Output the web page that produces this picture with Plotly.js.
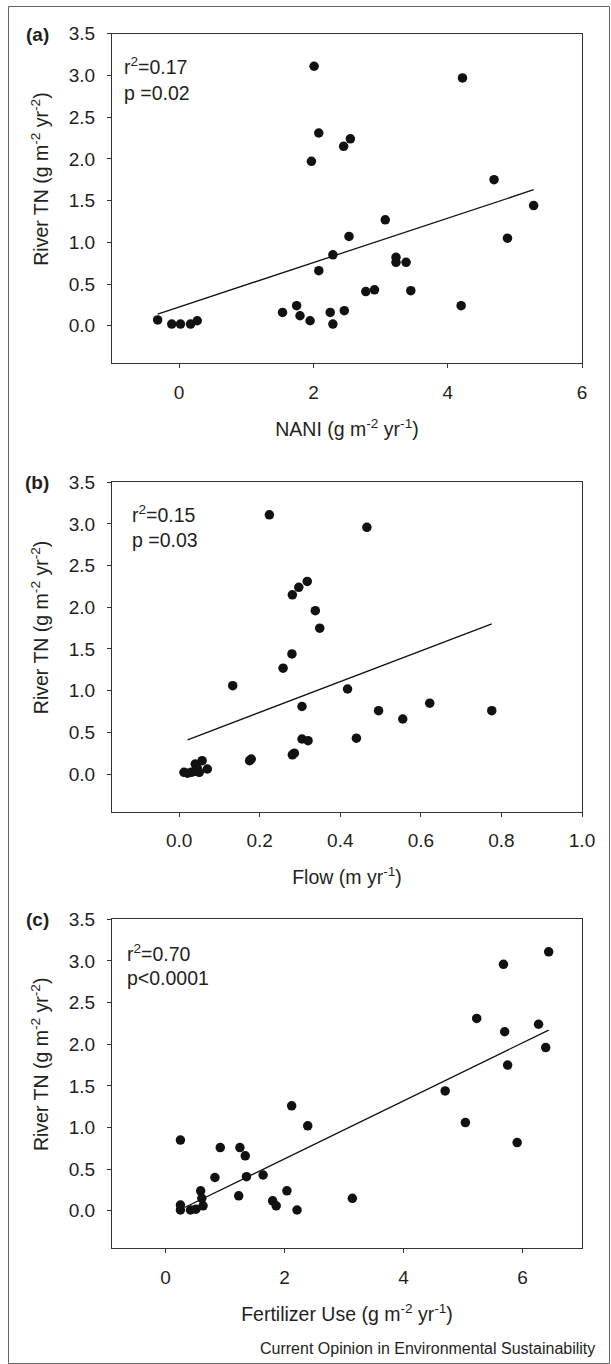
<!DOCTYPE html>
<html><head><meta charset="utf-8">
<script src="https://cdn.plot.ly/plotly-3.0.1.min.js"></script>
<style>html,body{margin:0;padding:0;background:#fff;} #chart{width:611px;height:1364px;}</style>
</head><body><div id="chart"></div>
<script>
// Panel (a): NANI vs River TN
const naniX = [2.01,4.22,2.08,2.55,2.45,1.97,4.69,5.28,3.07,2.53,4.89,2.29,2.08,3.23,3.23,3.38,2.78,2.91,3.45,4.20,1.54,1.75,1.80,1.95,2.25,2.29,2.46,-0.32,-0.11,0.02,0.17,0.27];
const naniTN = [3.11,2.97,2.31,2.24,2.15,1.97,1.75,1.44,1.27,1.07,1.05,0.85,0.66,0.82,0.76,0.76,0.41,0.43,0.42,0.24,0.16,0.24,0.12,0.06,0.16,0.02,0.18,0.07,0.02,0.02,0.02,0.06];
const naniFitX = [-0.32, 5.28];
const naniFitY = [0.14, 1.63];

// Panel (b): Flow vs River TN
const flowX = [0.224,0.466,0.318,0.297,0.281,0.338,0.349,0.280,0.258,0.133,0.418,0.305,0.495,0.776,0.555,0.622,0.305,0.320,0.440,0.281,0.286,0.175,0.179,0.021,0.040,0.057,0.050,0.070,0.045,0.030,0.038,0.012];
const flowTN = [3.11,2.96,2.31,2.24,2.15,1.96,1.75,1.44,1.27,1.06,1.02,0.81,0.76,0.76,0.66,0.85,0.42,0.40,0.43,0.23,0.25,0.16,0.18,0.01,0.12,0.16,0.02,0.06,0.07,0.02,0.03,0.02];
const flowFitX = [0.021, 0.776];
const flowFitY = [0.41, 1.80];

// Panel (c): Fertilizer use vs River TN
const fertX = [6.44,5.68,5.23,6.27,5.70,6.39,5.75,4.70,2.12,5.04,2.39,0.25,5.91,0.92,1.25,1.34,0.83,1.36,1.64,0.59,2.04,1.23,3.14,1.80,1.86,2.21,0.25,0.25,0.42,0.51,0.63,0.61];
const fertTN = [3.11,2.96,2.31,2.24,2.15,1.96,1.75,1.44,1.26,1.06,1.02,0.85,0.82,0.76,0.76,0.66,0.40,0.41,0.43,0.24,0.24,0.18,0.15,0.12,0.06,0.01,0.07,0.01,0.01,0.02,0.06,0.15];
const fertFitX = [0.32, 6.44];
const fertFitY = [0.04, 2.17];

const panelLabels = ['(a)', '(b)', '(c)'];
const xTitles = ['NANI (g m<sup>-2</sup> yr<sup>-1</sup>)', 'Flow (m yr<sup>-1</sup>)', 'Fertilizer Use (g m<sup>-2</sup> yr<sup>-1</sup>)'];
const yTitle = 'River TN (g m<sup>-2</sup> yr<sup>-2</sup>)';
const r2Text = ['r<sup>2</sup>=0.17', 'r<sup>2</sup>=0.15', 'r<sup>2</sup>=0.70'];
const pText = ['p =0.02', 'p =0.03', 'p<0.0001'];
const footer = 'Current Opinion in Environmental Sustainability';

const W = 611, H = 1364;
const FONT = 'Liberation Sans, Arial, Helvetica, sans-serif';
const TXT = '#231f20';
const px = v => v / W;
const py = v => 1 - v / H;

const mk = {color: '#111', size: 9.5};
const ln = {color: '#111', width: 1.3};
const data = [
  {x: naniX, y: naniTN, mode: 'markers', type: 'scatter', marker: mk, xaxis: 'x', yaxis: 'y'},
  {x: naniFitX, y: naniFitY, mode: 'lines', type: 'scatter', line: ln, xaxis: 'x', yaxis: 'y'},
  {x: flowX, y: flowTN, mode: 'markers', type: 'scatter', marker: mk, xaxis: 'x2', yaxis: 'y2'},
  {x: flowFitX, y: flowFitY, mode: 'lines', type: 'scatter', line: ln, xaxis: 'x2', yaxis: 'y2'},
  {x: fertX, y: fertTN, mode: 'markers', type: 'scatter', marker: mk, xaxis: 'x3', yaxis: 'y3'},
  {x: fertFitX, y: fertFitY, mode: 'lines', type: 'scatter', line: ln, xaxis: 'x3', yaxis: 'y3'}
];

// pixel geometry of the three plot boxes (top, bottom)
const boxes = [[33.7, 363.3], [482.3, 811.5], [919.3, 1248.3]];
const xRanges = [[-1, 6], [-1/6, 1.0], [-0.9, 7.0]];
const xDticks = [2, 0.2, 2];
const xFormats = ['d', '.1f', 'd'];

const layout = {
  width: W, height: H,
  margin: {l: 0, r: 0, t: 0, b: 0},
  paper_bgcolor: '#fff', plot_bgcolor: '#fff',
  showlegend: false,
  font: {family: FONT, color: TXT, size: 19},
  annotations: [],
  shapes: [{type: 'rect', xref: 'paper', yref: 'paper', x0: px(8.5), x1: px(609.5), y0: py(1363.5), y1: py(6.5), line: {color: '#666', width: 1}}]
};

const axBase = {
  ticks: 'outside', ticklen: 4, tickwidth: 1, tickcolor: '#333',
  showline: true, linecolor: '#333', linewidth: 1, mirror: true,
  showgrid: false, zeroline: false, tickfont: {size: 19, color: TXT, family: FONT},
  ticklabelstandoff: 8
};

for (let i = 0; i < 3; i++) {
  const s = i === 0 ? '' : String(i + 1);
  const [top, bot] = boxes[i];
  layout['xaxis' + s] = Object.assign({}, axBase, {
    domain: [px(112), px(582)], anchor: 'y' + s,
    range: xRanges[i], dtick: xDticks[i], tick0: 0, tickformat: xFormats[i],
    title: {text: xTitles[i], font: {size: 19.5, color: TXT, family: FONT}, standoff: 20}
  });
  layout['yaxis' + s] = Object.assign({}, axBase, {
    domain: [py(bot), py(top)], anchor: 'x' + s,
    range: [-0.45, 3.5], dtick: 0.5, tick0: 0, tickformat: '.1f'
  });
  const zeroPx = top + 3.5 * (bot - top) / 3.95;
  const midTicks = (top + zeroPx) / 2;
  layout.annotations.push({
    text: yTitle, xref: 'paper', yref: 'paper', x: px(40), y: py(midTicks),
    textangle: -90, showarrow: false, xanchor: 'center', yanchor: 'middle',
    font: {size: 19.5, color: TXT, family: FONT}
  });
  layout.annotations.push({
    text: '<b>' + panelLabels[i] + '</b>', xref: 'paper', yref: 'paper', x: px(37), y: py(top + 0.5),
    showarrow: false, xanchor: 'center', yanchor: 'middle', font: {size: 19, color: TXT, family: FONT}
  });
}

const r2Pos = [[122, 66], [130, 514], [125, 953]];
const pPos = [[122, 93], [130, 540], [125, 978]];
for (let i = 0; i < 3; i++) {
  layout.annotations.push({text: r2Text[i], xref: 'paper', yref: 'paper', x: px(r2Pos[i][0]), y: py(r2Pos[i][1]),
    showarrow: false, xanchor: 'left', yanchor: 'middle', font: {size: 19.5, color: TXT, family: FONT}});
  layout.annotations.push({text: pText[i], xref: 'paper', yref: 'paper', x: px(pPos[i][0]), y: py(pPos[i][1]),
    showarrow: false, xanchor: 'left', yanchor: 'middle', font: {size: 19.5, color: TXT, family: FONT}});
}
layout.annotations.push({text: footer, xref: 'paper', yref: 'paper', x: px(597), y: py(1348),
  showarrow: false, xanchor: 'right', yanchor: 'middle', font: {size: 16, color: TXT, family: FONT}});

Plotly.newPlot('chart', data, layout, {displayModeBar: false});
</script>
</body></html>
